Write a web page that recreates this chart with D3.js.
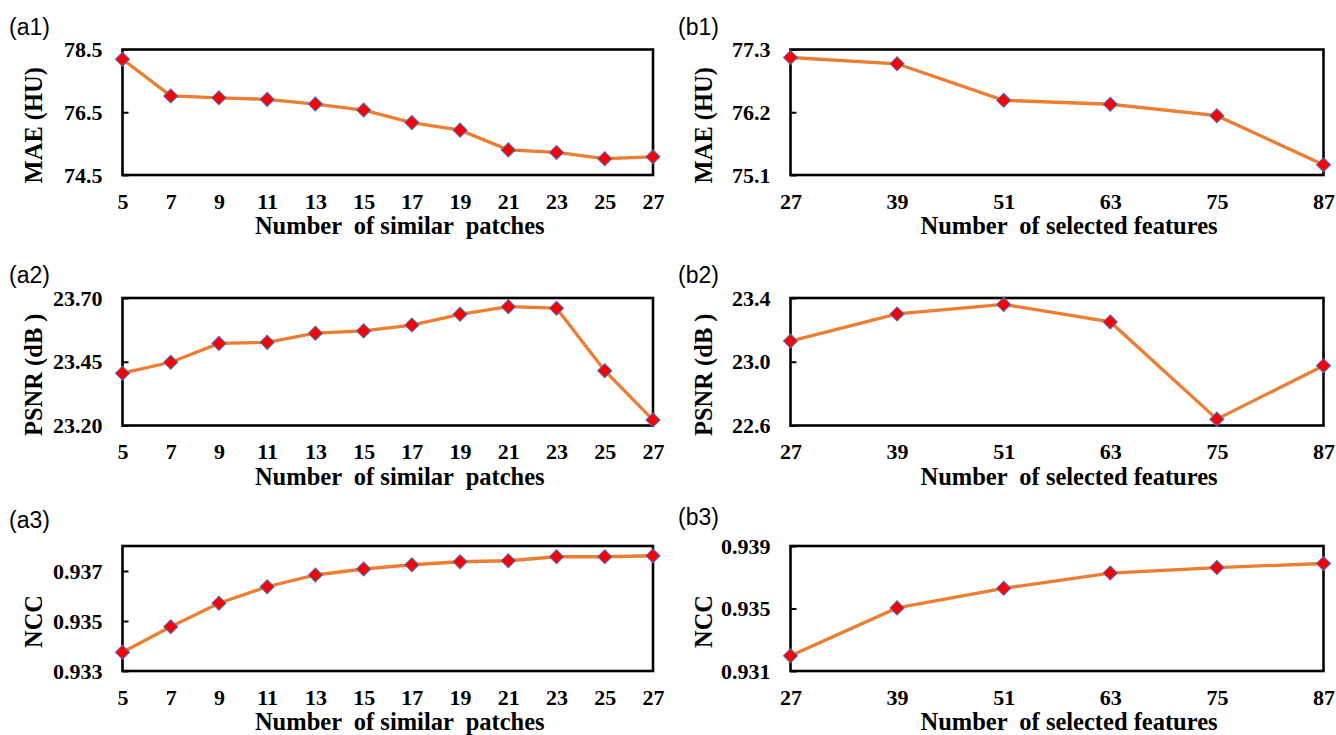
<!DOCTYPE html>
<html>
<head>
<meta charset="utf-8">
<script src="https://cdn.jsdelivr.net/npm/d3@7"></script>
<style>
  body { margin: 0; background: #fff; }
  svg { display: block; }
  .tick text { font-family: "Liberation Serif", "Times New Roman", serif; font-weight: bold; font-size: 22px; fill: #000; }
  .tick line { stroke: #000; stroke-width: 2; }
  .ttl { font-family: "Liberation Serif", "Times New Roman", serif; font-weight: bold; font-size: 24.5px; fill: #000; }
  .tag { font-family: "Liberation Sans", Arial, sans-serif; font-size: 23px; fill: #000; }
</style>
</head>
<body>
<svg id="fig" width="1336" height="735"></svg>
<script>
// x values
const patchCounts = [5, 7, 9, 11, 13, 15, 17, 19, 21, 23, 25, 27];
const featureCounts = [27, 39, 51, 63, 75, 87];

// series
const maeByPatches = [78.19, 77.02, 76.96, 76.91, 76.76, 76.57, 76.17, 75.93, 75.30, 75.22, 75.02, 75.08];
const psnrByPatches = [23.405, 23.448, 23.522, 23.526, 23.562, 23.571, 23.594, 23.636, 23.666, 23.660, 23.415, 23.222];
const nccByPatches = [0.93375, 0.93477, 0.93571, 0.93637, 0.93684, 0.93708, 0.93725, 0.93737, 0.93741, 0.93757, 0.93757, 0.93761];

const maeByFeatures = [77.16, 77.05, 76.41, 76.34, 76.14, 75.28];
const psnrByFeatures = [23.13, 23.30, 23.36, 23.25, 22.64, 22.975];
const nccByFeatures = [0.93197, 0.93504, 0.93629, 0.93727, 0.93762, 0.93788];

// y tick labels
const maePatchTicks = ['74.5', '76.5', '78.5'];
const psnrPatchTicks = ['23.20', '23.45', '23.70'];
const nccPatchTicks = ['0.933', '0.935', '0.937'];
const maeFeatureTicks = ['75.1', '76.2', '77.3'];
const psnrFeatureTicks = ['22.6', '23.0', '23.4'];
const nccFeatureTicks = ['0.931', '0.935', '0.939'];

const patchTitle = 'Number  of similar  patches';
const featureTitle = 'Number  of selected features';

let svg = d3.select('#fig');

let cols = [{ x0: 122.5, x1: 653, ytx: 33, tagx: 9 }, { x0: 790.5, x1: 1323.5, ytx: 703, tagx: 678 }];
let rows = [{ y0: 49.5, y1: 175 }, { y0: 298, y1: 425.5 }, { y0: 546, y1: 671 }];

let panels = [
  { tag: '(a1)', c: 0, r: 0, xs: patchCounts, ys: maeByPatches, ticks: maePatchTicks, top: 78.5, ytitle: 'MAE (HU)', xtitle: patchTitle, tagy: 35 },
  { tag: '(a2)', c: 0, r: 1, xs: patchCounts, ys: psnrByPatches, ticks: psnrPatchTicks, top: 23.70, ytitle: 'PSNR (dB )', xtitle: patchTitle, tagy: 283 },
  { tag: '(a3)', c: 0, r: 2, xs: patchCounts, ys: nccByPatches, ticks: nccPatchTicks, top: 0.938, ytitle: 'NCC', xtitle: patchTitle, tagy: 528 },
  { tag: '(b1)', c: 1, r: 0, xs: featureCounts, ys: maeByFeatures, ticks: maeFeatureTicks, top: 77.3, ytitle: 'MAE (HU)', xtitle: featureTitle, tagy: 35 },
  { tag: '(b2)', c: 1, r: 1, xs: featureCounts, ys: psnrByFeatures, ticks: psnrFeatureTicks, top: 23.4, ytitle: 'PSNR (dB )', xtitle: featureTitle, tagy: 283 },
  { tag: '(b3)', c: 1, r: 2, xs: featureCounts, ys: nccByFeatures, ticks: nccFeatureTicks, top: 0.939, ytitle: 'NCC', xtitle: featureTitle, tagy: 525 }
];

let diamond = d3.symbol(d3.symbolSquare, 100);

panels.forEach(p => {
  let col = cols[p.c];
  let row = rows[p.r];
  let x = d3.scaleLinear().domain(d3.extent(p.xs)).range([col.x0, col.x1]);
  let y = d3.scaleLinear().domain([+p.ticks[0], p.top]).range([row.y1, row.y0]);

  let g = svg.append('g');

  g.append('g')
    .attr('transform', 'translate(' + col.x0 + ',0)')
    .call(d3.axisLeft(y).tickValues(p.ticks.map(Number)).tickFormat((d, i) => p.ticks[i]).tickSizeInner(-6).tickSizeOuter(0).tickPadding(20))
    .call(a => a.select('.domain').remove());

  g.append('g')
    .attr('transform', 'translate(0,' + row.y1 + ')')
    .call(d3.axisBottom(x).tickValues(p.xs).tickFormat(d3.format('d')).tickSize(0).tickPadding(18))
    .call(a => a.select('.domain').remove());

  g.append('rect')
    .attr('x', col.x0).attr('y', row.y0)
    .attr('width', col.x1 - col.x0).attr('height', row.y1 - row.y0)
    .attr('fill', 'none').attr('stroke', '#000').attr('stroke-width', 2.6);

  let pts = p.xs.map((v, i) => [v, p.ys[i]]);
  g.append('path')
    .datum(pts)
    .attr('fill', 'none')
    .attr('stroke', '#ED7D31')
    .attr('stroke-width', 3.3)
    .attr('d', d3.line().x(d => x(d[0])).y(d => y(d[1])));

  g.selectAll('.mk')
    .data(pts)
    .enter()
    .append('path')
    .attr('class', 'mk')
    .attr('d', diamond)
    .attr('transform', d => 'translate(' + x(d[0]) + ',' + y(d[1]) + ') rotate(45)')
    .attr('fill', '#FF0000')
    .attr('stroke', '#4472C4')
    .attr('stroke-width', 1);

  g.append('text')
    .attr('class', 'ttl')
    .attr('text-anchor', 'middle')
    .attr('x', (col.x0 + col.x1) / 2 + 12)
    .attr('y', row.y1 + 59)
    .style('white-space', 'pre')
    .text(p.xtitle);

  g.append('text')
    .attr('class', 'ttl')
    .attr('text-anchor', 'middle')
    .attr('transform', 'translate(' + col.ytx + ',' + ((row.y0 + row.y1) / 2 + 13) + ') rotate(-90)')
    .attr('dy', '0.35em')
    .style('white-space', 'pre')
    .text(p.ytitle);

  g.append('text')
    .attr('class', 'tag')
    .attr('x', col.tagx)
    .attr('y', p.tagy)
    .text(p.tag);
});
</script>
</body>
</html>
